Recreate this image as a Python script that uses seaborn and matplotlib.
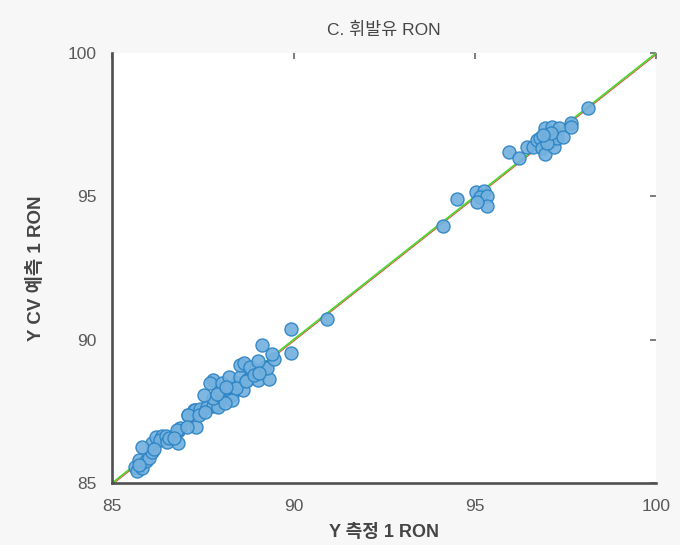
import matplotlib
matplotlib.use("Agg")
import matplotlib.pyplot as plt
import matplotlib.transforms as mtransforms
import numpy as np
import pandas as pd
import seaborn as sns

# Measured vs. cross-validated predicted RON for gasoline samples
measured = [
    # low-RON group
    85.64, 85.69, 85.83, 85.73, 85.92, 86.01, 86.10, 86.10, 85.81, 86.22,
    86.36, 86.33, 86.47, 86.51, 86.56, 86.82, 86.82, 86.88, 86.80, 87.30,
    87.10, 87.41, 87.25, 87.62, 87.85, 87.29, 87.43, 87.10, 87.38, 87.61,
    87.79, 87.93, 87.79, 87.52, 88.02, 88.30, 87.79, 88.30, 88.62, 87.98,
    87.70, 88.02, 88.43, 88.21, 88.23, 88.53, 88.73, 89.01, 89.31, 88.85,
    88.94, 89.20, 89.26, 88.53, 88.64, 88.80, 89.01, 89.45, 89.40, 89.12,
    89.93, 89.93, 90.92, 85.75, 86.15, 86.70, 87.05, 87.55, 88.10, 88.40,
    88.68, 88.90, 89.05, 87.88, 88.15,
    # mid group
    94.12, 94.52, 95.04, 95.24, 95.13, 95.33, 95.33, 95.05,
    # high-RON group
    95.93, 96.23, 96.43, 96.61, 96.71, 96.80, 96.84, 96.94, 96.94, 97.03,
    97.08, 97.13, 97.17, 97.26, 97.33, 97.44, 97.65, 97.65, 98.12, 96.98,
    97.10, 96.88,
]
predicted = [
    # low-RON group
    85.57, 85.43, 85.51, 85.80, 85.78, 85.86, 86.09, 86.38, 86.25, 86.59,
    86.64, 86.50, 86.64, 86.44, 86.56, 86.82, 86.38, 86.91, 86.85, 86.94,
    87.37, 87.43, 87.55, 87.66, 87.72, 87.55, 87.57, 87.37, 87.37, 87.66,
    87.69, 87.66, 87.95, 88.07, 88.01, 88.07, 88.59, 87.89, 88.24, 88.24,
    88.48, 88.48, 88.48, 88.36, 88.71, 88.71, 88.59, 88.59, 88.62, 88.88,
    88.94, 89.06, 89.00, 89.12, 89.18, 89.06, 89.27, 89.31, 89.50, 89.82,
    90.37, 89.52, 90.72, 85.62, 86.20, 86.58, 86.95, 87.48, 87.80, 88.30,
    88.55, 88.75, 88.85, 88.10, 88.35,
    # mid group
    93.97, 94.90, 95.14, 95.18, 94.96, 95.02, 94.66, 94.79,
    # high-RON group
    96.56, 96.32, 96.71, 96.73, 96.96, 97.02, 96.67, 96.46, 97.37, 97.08,
    96.91, 97.41, 96.73, 97.02, 97.37, 97.06, 97.55, 97.41, 98.08, 96.85,
    97.20, 97.15,
]

axis_ticks = [85, 90, 95, 100]
axis_limits = [85, 100]

title_text = "C. 휘발유 RON"
xlabel_text = "Y 측정 1 RON"
ylabel_text = "Y CV 예측 1 RON"

df = pd.DataFrame({"measured": measured, "predicted": predicted})

sns.set_style("white")
# Latin text in a Helvetica-like face, Hangul falls back to Noto CJK
plt.rcParams["font.family"] = ["Liberation Sans", "Noto Sans CJK KR", "DejaVu Sans"]

fig = plt.figure(figsize=(6.8, 5.45), dpi=100, facecolor="#f7f7f7")
ax = fig.add_axes([0.165, 0.1138, 0.8, 0.789])
ax.set_facecolor("white")

# 1:1 reference line, red under green
red_shift = mtransforms.offset_copy(ax.transData, fig=fig, x=0.9, y=-0.9, units="dots")
ax.plot(axis_limits, axis_limits, color="#e8412c", lw=0.7, transform=red_shift, zorder=1)
ax.plot(axis_limits, axis_limits, color="#45d82a", lw=1.2, zorder=2)

sns.scatterplot(
    data=df, x="measured", y="predicted", ax=ax,
    s=88, color="#74b1de", edgecolor="#2b83c4", linewidth=1.0,
    alpha=0.92, zorder=3, legend=False,
)

ax.set_xlim(axis_limits)
ax.set_ylim(axis_limits)
ax.set_xticks(axis_ticks)
ax.set_yticks(axis_ticks)

spine_col = "#505050"
for side in ["top", "right"]:
    ax.spines[side].set_visible(False)
for side in ["left", "bottom"]:
    ax.spines[side].set_color(spine_col)
    ax.spines[side].set_linewidth(1.9)

ax.tick_params(axis="both", direction="inout", length=11, width=1.5,
               color=spine_col, labelsize=12.5, labelcolor="#595959", pad=6)

# inward ticks on the top and right edges
top = ax.secondary_xaxis("top")
top.set_xticks(axis_ticks)
top.tick_params(direction="in", length=4, width=1.2, color="#666666", labeltop=False)
top.spines["top"].set_visible(False)
right = ax.secondary_yaxis("right")
right.set_yticks(axis_ticks)
right.tick_params(direction="in", length=4, width=1.2, color="#666666", labelright=False)
right.spines["right"].set_visible(False)

ax.set_xlabel(xlabel_text, fontsize=13, fontweight="bold", color="#454545", labelpad=7)
ax.set_ylabel(ylabel_text, fontsize=13.5, fontweight="bold", color="#454545", labelpad=16)
fig.text(0.565, 0.945, title_text, ha="center", va="center",
         fontsize=12.5, color="#454545")

fig.savefig("out.png", dpi=100, facecolor=fig.get_facecolor())
